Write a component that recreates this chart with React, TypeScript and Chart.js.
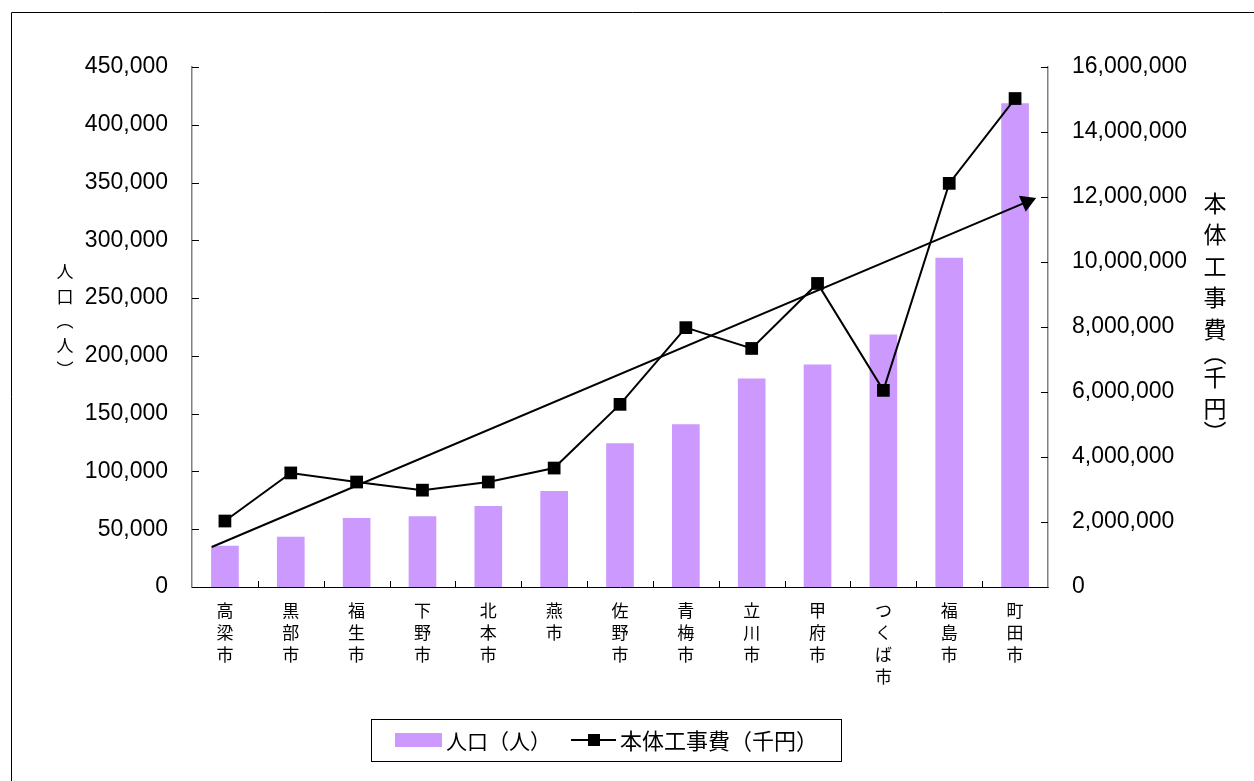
import { useEffect, useRef } from 'react';
import { Chart, registerables } from 'chart.js';

Chart.register(...registerables);

// ---- data ----
const cities = ['高梁市', '黒部市', '福生市', '下野市', '北本市', '燕市', '佐野市', '青梅市', '立川市', '甲府市', 'つくば市', '福島市', '町田市'];
const population = [35600, 43400, 59800, 61300, 70000, 83100, 124400, 140800, 180500, 192500, 218500, 285000, 418600];
const constructionCost = [2030000, 3510000, 3230000, 2980000, 3230000, 3660000, 5620000, 7980000, 7340000, 9340000, 6050000, 12420000, 15030000];
// hand-drawn arrow (trend) start / end, in category-index and cost units
const trendX = [-0.2, 12.18];
const trendY = [1230000, 11850000];
const populationTitle = ['人', '口', '︵', '人', '︶'];
const costTitle = ['本', '体', '工', '事', '費', '︵', '千', '円', '︶'];
const legendLabels = ['人口（人）', '本体工事費（千円）'];

const W = 1254;
const H = 781;
const NUM_FONT = '"Liberation Sans", Arial, sans-serif';
const JP_FONT = '"Noto Sans CJK JP", "Noto Sans", sans-serif';
const BAR_COLOR = '#CC99FF';

const fmt = (v: number) => Number(v).toLocaleString('en-US');

const decorPlugin = {
  id: 'decor',
  afterDraw(chart: any) {
    const ctx = chart.ctx as CanvasRenderingContext2D;
    const area = chart.chartArea;
    const yS = chart.scales.y;
    const y2S = chart.scales.y2;
    ctx.save();

    // outer border
    ctx.strokeStyle = '#000';
    ctx.lineWidth = 1;
    ctx.beginPath();
    ctx.moveTo(11.5, H);
    ctx.lineTo(11.5, 12.5);
    ctx.lineTo(W, 12.5);
    ctx.stroke();

    // inside tick marks
    ctx.strokeStyle = '#000';
    ctx.lineWidth = 1;
    ctx.beginPath();
    yS.ticks.forEach((t: any) => {
      const py = Math.round(yS.getPixelForValue(t.value)) + 0.5;
      ctx.moveTo(area.left, py);
      ctx.lineTo(area.left + 7, py);
    });
    y2S.ticks.forEach((t: any) => {
      const py = Math.round(y2S.getPixelForValue(t.value)) + 0.5;
      ctx.moveTo(area.right - 7, py);
      ctx.lineTo(area.right, py);
    });
    const n = cities.length;
    const step = (area.right - area.left) / n;
    for (let i = 1; i < n; i++) {
      const px = Math.round(area.left + i * step) + 0.5;
      ctx.moveTo(px, area.bottom);
      ctx.lineTo(px, area.bottom - 6);
    }
    ctx.stroke();

    // axis titles (vertical, stacked)
    ctx.fillStyle = '#000';
    ctx.textAlign = 'center';
    ctx.textBaseline = 'middle';
    ctx.font = `17px ${JP_FONT}`;
    populationTitle.forEach((c, i) => {
      ctx.fillText(c, 65, 272 + i * 24.5);
    });
    ctx.font = `23px ${JP_FONT}`;
    let ty = 203;
    costTitle.forEach((c, i) => {
      ctx.fillText(c, 1215, ty);
      const next = costTitle[i + 1];
      ty += (c === '︵' || c === '︶' || next === '︵' || next === '︶') ? 24 : 31.5;
    });

    // legend
    const lx = 371.5, ly = 719.5, lw = 470, lh = 42;
    ctx.strokeStyle = '#000';
    ctx.lineWidth = 1;
    ctx.strokeRect(lx, ly, lw, lh);
    const cy = 740;
    ctx.fillStyle = BAR_COLOR;
    ctx.fillRect(395, cy - 7, 47, 14);
    ctx.fillStyle = '#000';
    ctx.textAlign = 'left';
    ctx.font = `21px ${JP_FONT}`;
    ctx.fillText(legendLabels[0], 446, cy + 1);
    ctx.lineWidth = 2;
    ctx.beginPath();
    ctx.moveTo(571, cy);
    ctx.lineTo(616, cy);
    ctx.stroke();
    ctx.fillRect(588, cy - 6, 12, 12);
    ctx.font = `22px ${JP_FONT}`;
    ctx.fillText(legendLabels[1], 620, cy + 1);

    ctx.restore();
  },
};

export default function App() {
  const ref = useRef<HTMLCanvasElement | null>(null);

  useEffect(() => {
    if (!ref.current) return;
    const chart = new Chart(ref.current, {
      type: 'bar',
      data: {
        labels: cities.map((c) => Array.from(c)),
        datasets: [
          {
            type: 'bar',
            label: legendLabels[0],
            data: population,
            yAxisID: 'y',
            xAxisID: 'x',
            backgroundColor: BAR_COLOR,
            borderWidth: 0,
            categoryPercentage: 1,
            barPercentage: 0.42,
            grouped: false,
            order: 2,
          } as any,
          {
            type: 'line',
            label: legendLabels[1],
            data: constructionCost,
            yAxisID: 'y2',
            xAxisID: 'x',
            borderColor: '#000',
            borderWidth: 2,
            backgroundColor: '#000',
            pointStyle: 'rect',
            pointRadius: 9,
            pointBackgroundColor: '#000',
            pointBorderColor: '#000',
            pointBorderWidth: 0,
            tension: 0,
            order: 0,
          } as any,
          {
            type: 'line',
            label: 'trend',
            data: trendX.map((x, i) => ({ x, y: trendY[i] })),
            xAxisID: 'xArrow',
            yAxisID: 'y2',
            borderColor: '#000',
            borderWidth: 2,
            pointStyle: 'triangle',
            pointRadius: [0, 10],
            rotation: 67,
            pointBackgroundColor: '#000',
            pointBorderColor: '#000',
            pointBorderWidth: 0,
            order: 1,
          } as any,
        ],
      },
      options: {
        animation: false,
        responsive: false,
        maintainAspectRatio: false,
        layout: { padding: { top: 67, left: 0, right: 0, bottom: 0 } },
        plugins: {
          legend: { display: false },
          tooltip: { enabled: false },
          title: { display: false },
        },
        scales: {
          x: {
            type: 'category',
            position: 'bottom',
            offset: true,
            grid: { display: false },
            border: { display: true, color: '#000', width: 1 },
            ticks: {
              color: '#000',
              font: { family: JP_FONT, size: 17, lineHeight: 1.3 },
              maxRotation: 0,
              minRotation: 0,
              autoSkip: false,
              padding: 4,
            },
            afterFit: (s: any) => {
              s.height = H - 587;
            },
          },
          xArrow: {
            type: 'linear',
            display: true,
            position: 'bottom',
            offset: false,
            bounds: 'data',
            min: -0.5,
            max: cities.length - 0.5,
            grid: { display: false, drawTicks: false, offset: false },
            border: { display: false },
            ticks: { display: false },
            afterFit: (s: any) => {
              s.height = 0;
            },
          },
          y: {
            type: 'linear',
            position: 'left',
            min: 0,
            max: 450000,
            grid: { display: false },
            border: { display: true, color: '#808080', width: 1.5 },
            ticks: {
              stepSize: 50000,
              color: '#000',
              font: { family: NUM_FONT, size: 23 },
              padding: 16,
              callback: (v: any) => fmt(v),
            },
            afterFit: (s: any) => {
              s.width = 192;
            },
          },
          y2: {
            type: 'linear',
            position: 'right',
            min: 0,
            max: 16000000,
            grid: { display: false },
            border: { display: true, color: '#808080', width: 1.5 },
            ticks: {
              stepSize: 2000000,
              color: '#000',
              font: { family: NUM_FONT, size: 23 },
              padding: 16,
              callback: (v: any) => fmt(v),
            },
            afterFit: (s: any) => {
              s.width = W - 1048;
            },
          },
        },
      } as any,
      plugins: [decorPlugin],
    });
    return () => chart.destroy();
  }, []);

  return (
    <div style={{ position: 'absolute', left: 0, top: 0, width: W, height: H, background: '#fff' }}>
      <canvas ref={ref} width={W} height={H} style={{ display: 'block', width: W, height: H }} />
    </div>
  );
}
